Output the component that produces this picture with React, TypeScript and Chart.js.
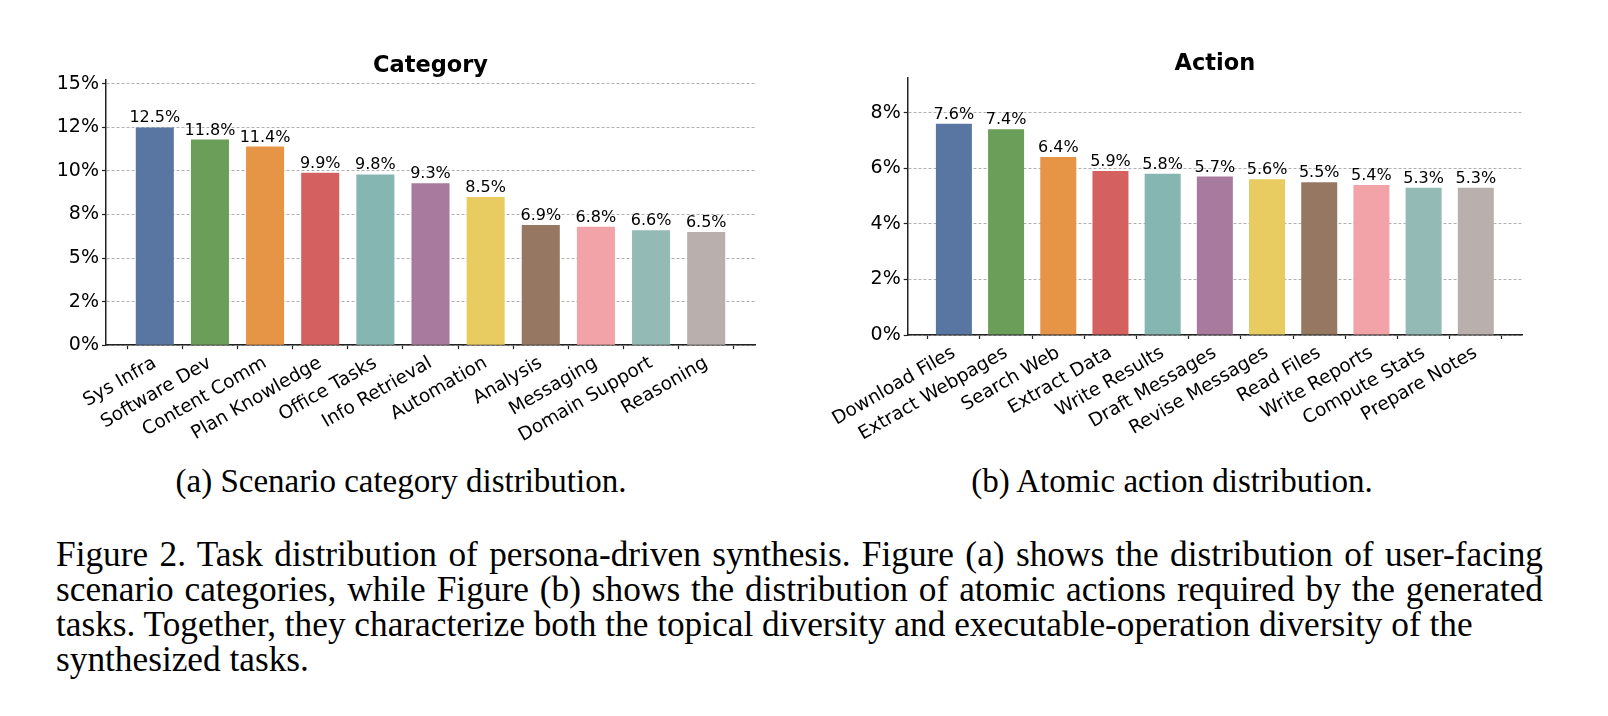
import React, { useEffect, useRef } from "react";
import { Chart, registerables } from "chart.js";

Chart.register(...registerables);

// ---- data ----
const categoryLabels = ["Sys Infra", "Software Dev", "Content Comm", "Plan Knowledge", "Office Tasks", "Info Retrieval", "Automation", "Analysis", "Messaging", "Domain Support", "Reasoning"];
const categoryValues = [12.5, 11.8, 11.4, 9.9, 9.8, 9.3, 8.5, 6.9, 6.8, 6.6, 6.5];
const categoryTickValues = [0, 2.5, 5, 7.5, 10, 12.5, 15];
const categoryTickLabels = ["0%", "2%", "5%", "8%", "10%", "12%", "15%"];

const actionLabels = ["Download Files", "Extract Webpages", "Search Web", "Extract Data", "Write Results", "Draft Messages", "Revise Messages", "Read Files", "Write Reports", "Compute Stats", "Prepare Notes"];
const actionValues = [7.6, 7.4, 6.4, 5.9, 5.8, 5.7, 5.6, 5.5, 5.4, 5.3, 5.3];
const actionTickValues = [0, 2, 4, 6, 8];
const actionTickLabels = ["0%", "2%", "4%", "6%", "8%"];

const barColors = ["#5876a1", "#6a9e59", "#e69446", "#d4605f", "#86b6b1", "#a87b9e", "#e8cb61", "#967862", "#f2a3a8", "#93bab5", "#b9b0ad"];

const captionA = "(a) Scenario category distribution.";
const captionB = "(b) Atomic action distribution.";
const captionLines = [
  "Figure 2. Task distribution of persona-driven synthesis. Figure (a) shows the distribution of user-facing",
  "scenario categories, while Figure (b) shows the distribution of atomic actions required by the generated",
  "tasks. Together, they characterize both the topical diversity and executable-operation diversity of the",
  "synthesized tasks.",
];
const justifiedLines = [true, true, false, false];

const X_TICK_FONT = { family: "DejaVu Sans", size: 18.5 };
const Y_TICK_FONT = { family: "DejaVu Sans", size: 19 };

const barLabelPlugin = {
  id: "barLabels",
  afterDatasetsDraw(chart: any) {
    const ctx = chart.ctx;
    const meta = chart.getDatasetMeta(0);
    const vals = chart.data.datasets[0].data;
    ctx.save();
    ctx.font = '16px "DejaVu Sans"';
    ctx.fillStyle = "#000";
    ctx.textAlign = "center";
    ctx.textBaseline = "alphabetic";
    meta.data.forEach((el: any, i: number) => {
      ctx.fillText(`${vals[i].y.toFixed(1)}%`, el.x, el.y - 5);
    });
    ctx.restore();
  },
};

type BoxProps = {
  labels: string[];
  values: number[];
  tickValues: number[];
  tickLabels: string[];
  title: string;
  left: number;
  width: number;
  yAxisWidth: number;
  padRight: number;
  padTop: number;
  chartBottom: number;
};

const H = 460;

function BarBox(p: BoxProps) {
  const ref = useRef<HTMLCanvasElement | null>(null);
  useEffect(() => {
    if (!ref.current) return;
    const n = p.labels.length;
    const ymax = Math.max(...p.values) * 1.22;
    const chart = new Chart(ref.current, {
      type: "bar",
      data: {
        datasets: [
          {
            data: p.values.map((v, i) => ({ x: i, y: v })) as any,
            backgroundColor: barColors,
            borderWidth: 0,
            barPercentage: 0.69,
            categoryPercentage: 1,
          },
        ],
      },
      plugins: [barLabelPlugin],
      options: {
        animation: false,
        responsive: false,
        devicePixelRatio: 1,
        layout: { padding: { left: 0, right: p.padRight, top: p.padTop, bottom: 0 } },
        plugins: {
          legend: { display: false },
          tooltip: { enabled: false },
          title: {
            display: true,
            text: p.title,
            fullSize: false,
            color: "#000",
            font: { family: "DejaVu Sans", size: 22.5, weight: "bold" },
            padding: { top: 0, bottom: 0 },
          },
        },
        scales: {
          x: {
            type: "linear",
            min: -0.885,
            max: n - 1 + 0.885,
            offset: false,
            afterBuildTicks: (s: any) => {
              s.ticks = p.labels.map((_, i) => ({ value: i }));
            },
            afterFit: (s: any) => {
              s.height = H - p.chartBottom;
            },
            ticks: {
              autoSkip: false,
              minRotation: 30,
              maxRotation: 30,
              padding: 3,
              color: "#000",
              font: X_TICK_FONT,
              callback: (v: any) => p.labels[Math.round(Number(v))] ?? "",
            },
            grid: { drawOnChartArea: false, drawTicks: true, tickLength: 4, tickColor: "#222", tickWidth: 1.2 },
            border: { display: true, color: "#222", width: 1.5 },
          },
          y: {
            min: 0,
            max: ymax,
            afterBuildTicks: (s: any) => {
              s.ticks = p.tickValues.map((v) => ({ value: v }));
            },
            afterFit: (s: any) => {
              s.width = p.yAxisWidth;
            },
            ticks: {
              padding: 3,
              color: "#000",
              font: Y_TICK_FONT,
              callback: (_v: any, i: number) => p.tickLabels[i],
            },
            grid: { color: "#b0b0b0", lineWidth: 1, drawTicks: true, tickLength: 4, tickColor: "#222", tickWidth: 1.2 },
            border: { display: true, color: "#222", width: 1.5, dash: [3, 2] },
          },
        },
      } as any,
    });
    return () => chart.destroy();
  }, []);
  return (
    <canvas
      ref={ref}
      width={p.width}
      height={H}
      style={{ position: "absolute", left: p.left, top: 0, width: p.width, height: H }}
    />
  );
}

const serif = '"Liberation Serif", "Times New Roman", Times, serif';

export default function App() {
  return (
    <div style={{ position: "absolute", left: 0, top: 0, width: 1608, height: 716, overflow: "hidden", background: "#fff" }}>
      <BarBox
        labels={categoryLabels}
        values={categoryValues}
        tickValues={categoryTickValues}
        tickLabels={categoryTickLabels}
        title="Category"
        left={0}
        width={800}
        yAxisWidth={106}
        padRight={45}
        padTop={52.5}
        chartBottom={345.2}
      />
      <BarBox
        labels={actionLabels}
        values={actionValues}
        tickValues={actionTickValues}
        tickLabels={actionTickLabels}
        title="Action"
        left={800}
        width={808}
        yAxisWidth={107.7}
        padRight={86}
        padTop={50.3}
        chartBottom={335}
      />
      <div style={{ position: "absolute", left: 101, top: 463.6, width: 600, textAlign: "center", fontFamily: serif, fontSize: 33, lineHeight: "34.5px", whiteSpace: "nowrap", color: "#000" }}>
        {captionA}
      </div>
      <div style={{ position: "absolute", left: 872, top: 463.6, width: 600, textAlign: "center", fontFamily: serif, fontSize: 33, lineHeight: "34.5px", whiteSpace: "nowrap", color: "#000" }}>
        {captionB}
      </div>
      {captionLines.map((line, i) => (
        <div
          key={i}
          style={{
            position: "absolute",
            left: 56,
            top: 537 + i * 35,
            width: justifiedLines[i] ? 1487 : undefined,
            textAlign: justifiedLines[i] ? "justify" : "left",
            textAlignLast: justifiedLines[i] ? "justify" : "auto",
            fontFamily: serif,
            fontSize: 35.3,
            lineHeight: "35px",
            whiteSpace: justifiedLines[i] ? "normal" : "nowrap",
            color: "#000",
          } as any}
        >
          {line}
        </div>
      ))}
    </div>
  );
}
